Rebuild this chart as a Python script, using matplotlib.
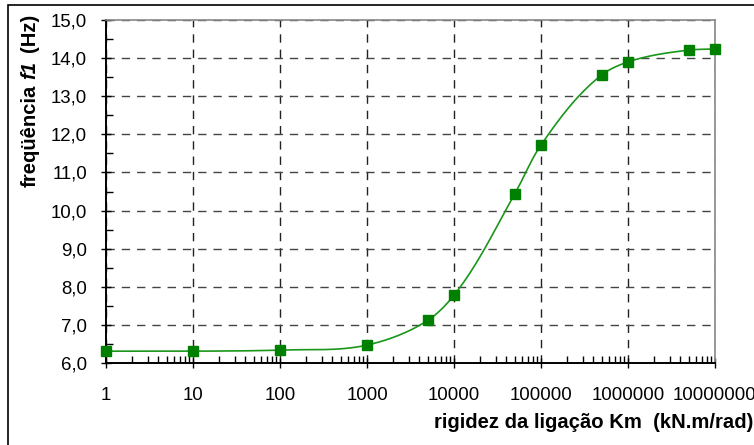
import numpy as np
import matplotlib
matplotlib.use("Agg")
import matplotlib.pyplot as plt
from matplotlib.ticker import FixedLocator, FuncFormatter, LogLocator, NullFormatter, MultipleLocator
from matplotlib.patches import Rectangle

plt.rcParams['font.family'] = ['Liberation Sans', 'DejaVu Sans']

stiffness = [1, 10, 100, 1000, 5000, 10000, 50000, 100000, 500000, 1000000, 5000000, 10000000]
frequency = [6.31, 6.31, 6.34, 6.47, 7.12, 7.78, 10.44, 11.72, 13.56, 13.90, 14.21, 14.24]
x_ticks = [1, 10, 100, 1000, 10000, 100000, 1000000, 10000000]
x_tick_labels = ["1", "10", "100", "1000", "10000", "100000", "1000000", "10000000"]
y_ticks = [6, 7, 8, 9, 10, 11, 12, 13, 14, 15]

W, H = 754, 445
fig = plt.figure(figsize=(W / 100, H / 100), dpi=100)
ax_l, ax_r, ax_t, ax_b = 106, 715, 20, 363
ax = fig.add_axes([ax_l / W, 1 - ax_b / H, (ax_r - ax_l) / W, (ax_b - ax_t) / H])

# figure border
fig.patches.append(Rectangle((8 / W, -0.1), 1.2, 1 - 5 / H + 0.1, transform=fig.transFigure,
                             fill=False, edgecolor='black', linewidth=1.2))

ax.set_xscale('log')
ax.set_xlim(1, 1e7)
ax.set_ylim(6, 15)

# smooth curve: Bezier with chord-length tangents in screen space
lx = np.log10(np.array(stiffness, dtype=float))
fy = np.array(frequency)
sx = (ax_r - ax_l) / 7.0
sy = (ax_b - ax_t) / 9.0
P = np.column_stack([lx * sx, fy * sy])
n = len(P)
T = np.zeros_like(P)
for i in range(n):
    if i == 0:
        d = P[1] - P[0]
    elif i == n - 1:
        d = P[-1] - P[-2]
    else:
        d = (P[i + 1] - P[i]) / np.linalg.norm(P[i + 1] - P[i]) + (P[i] - P[i - 1]) / np.linalg.norm(P[i] - P[i - 1])
    T[i] = d / np.linalg.norm(d)
curve = []
t = np.linspace(0, 1, 50)[:, None]
for i in range(n - 1):
    p1, p2 = P[i], P[i + 1]
    L = np.linalg.norm(p2 - p1)
    c1 = p1 + T[i] * L / 3
    c2 = p2 - T[i + 1] * L / 3
    seg = (1 - t) ** 3 * p1 + 3 * (1 - t) ** 2 * t * c1 + 3 * (1 - t) * t ** 2 * c2 + t ** 3 * p2
    curve.append(seg)
curve = np.vstack(curve)
ax.plot(10 ** (curve[:, 0] / sx), curve[:, 1] / sy, color='#1a961a', linewidth=1.2, zorder=3)
ax.plot(stiffness, frequency, linestyle='none', marker='s', markersize=6.5,
        color='#008000', zorder=4, clip_on=False)

ax.xaxis.set_major_locator(FixedLocator(x_ticks))
ax.xaxis.set_major_formatter(FuncFormatter(lambda v, p: x_tick_labels[x_ticks.index(v)] if v in x_ticks else ""))
ax.xaxis.set_minor_locator(LogLocator(base=10, subs=np.arange(2, 10)))
ax.xaxis.set_minor_formatter(NullFormatter())
ax.yaxis.set_major_locator(FixedLocator(y_ticks))
ax.yaxis.set_major_formatter(FuncFormatter(lambda v, p: f"{v:.1f}".replace('.', ',')))
ax.yaxis.set_minor_locator(MultipleLocator(0.5))

ax.tick_params(axis='both', which='major', labelsize=13.4, direction='inout', length=7, width=1, color='black')
ax.tick_params(axis='x', which='major', pad=14)
ax.tick_params(axis='y', which='major', pad=10)
ax.tick_params(axis='both', which='minor', direction='in', length=5, width=1)

ax.grid(True, which='major', axis='x', linestyle=(0, (6, 5)), color='#222222', linewidth=1)
ax.grid(True, which='major', axis='y', linestyle=(0, (6, 5)), color='#444444', linewidth=1)
ax.set_axisbelow(True)

for s in ['top', 'right']:
    ax.spines[s].set_color('#888888')
    ax.spines[s].set_linewidth(1.2)
for s in ['left', 'bottom']:
    ax.spines[s].set_color('black')
    ax.spines[s].set_linewidth(1.4)

# y label in pieces (italic bold "f1")
fs = 14.6
fig.canvas.draw()
renderer = fig.canvas.get_renderer()

def measure(s, style='normal'):
    tt = fig.text(0, 0, s, fontsize=fs, fontweight='bold', fontstyle=style)
    w = tt.get_window_extent(renderer).width
    tt.remove()
    return w

space_w = measure("a a") - measure("aa")
parts = [("freqüência", 'normal', space_w), ("f1", 'italic', space_w * 1.6), ("(Hz)", 'normal', 0)]
ypix = 187.0
xc = 30.0
for txt, style, gap in parts:
    tobj = fig.text(xc / W, 1 - ypix / H, txt, fontsize=fs, fontweight='bold', fontstyle=style,
                    rotation=90, ha='left', va='center', rotation_mode='anchor')
    bb = tobj.get_window_extent(renderer)
    ypix -= bb.height + gap

fig.text(1 - 1 / W, 1 - 423 / H, "rigidez da ligação Km  (kN.m/rad)", fontsize=fs,
         fontweight='bold', ha='right', va='center')

fig.savefig("out.png", dpi=100)
